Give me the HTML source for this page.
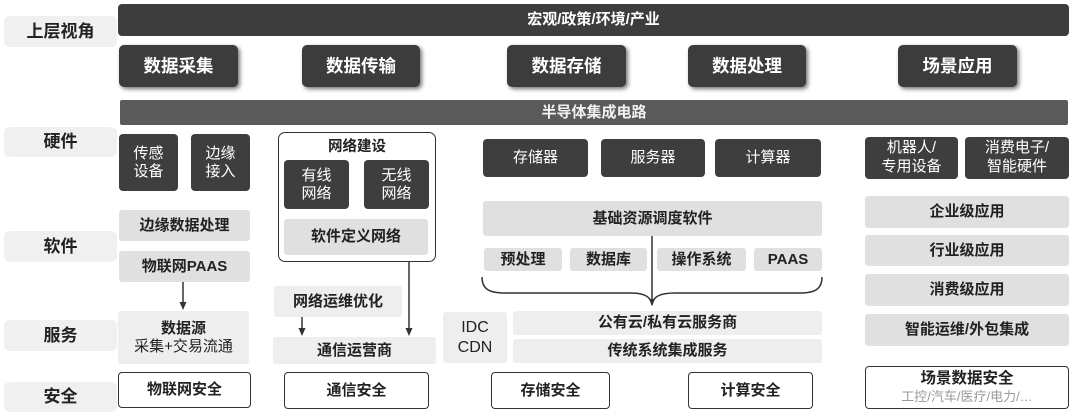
<!DOCTYPE html>
<html><head><meta charset="utf-8">
<style>
*{margin:0;padding:0;box-sizing:border-box}
body{width:1080px;height:419px;background:#fff;position:relative;overflow:hidden;font-family:"Liberation Sans","Noto Sans CJK SC",sans-serif;color:#222}
.a{position:absolute;display:flex;align-items:center;justify-content:center;text-align:center;line-height:1.15}
.lab{background:#f0f0f0;border-radius:6px;font-size:17px;font-weight:bold;color:#222;left:4px;width:113px}
.dk{background:#3e3e3e;color:#fff;border-radius:4px;font-size:15px}
.btn{background:#3c3c3c;color:#fff;border-radius:5px;font-size:17.5px;font-weight:bold;box-shadow:2px 2px 4px rgba(0,0,0,0.55);top:45px;height:42px}
.sw{background:#e0e0e0;border-radius:3px;font-size:15px;font-weight:bold;color:#222}
.sv{background:#eeeeee;border-radius:3px;font-size:15px;font-weight:bold;color:#222}
.ol{border:1.6px solid #333;border-radius:4px;font-size:15px;font-weight:bold;color:#222;background:#fff}
</style></head><body>

<!-- left labels -->
<div class="a lab" style="top:16px;height:31px">上层视角</div>
<div class="a lab" style="top:127px;height:30px">硬件</div>
<div class="a lab" style="top:231px;height:31px">软件</div>
<div class="a lab" style="top:320px;height:31px">服务</div>
<div class="a lab" style="top:382px;height:30px">安全</div>

<!-- top bar -->
<div class="a" style="left:118px;top:4px;width:951px;height:32px;background:#3d3d3d;border-radius:4px;color:#fff;font-size:15px;font-weight:bold">宏观/政策/环境/产业</div>

<!-- buttons -->
<div class="a btn" style="left:119px;width:119px">数据采集</div>
<div class="a btn" style="left:302px;width:118px">数据传输</div>
<div class="a btn" style="left:507px;width:119px">数据存储</div>
<div class="a btn" style="left:688px;width:118px">数据处理</div>
<div class="a btn" style="left:898px;width:119px">场景应用</div>

<!-- semiconductor bar -->
<div class="a" style="left:120px;top:100px;width:948px;height:25px;background:#5a5a5a;border-radius:2px;color:#f2f2f2;font-size:15px;font-weight:bold">半导体集成电路</div>

<!-- column 1 -->
<div class="a dk" style="left:119px;top:134px;width:59px;height:57px">传感<br>设备</div>
<div class="a dk" style="left:191px;top:134px;width:59px;height:57px">边缘<br>接入</div>
<div class="a sw" style="left:119px;top:210px;width:131px;height:31px">边缘数据处理</div>
<div class="a sw" style="left:119px;top:251px;width:131px;height:31px">物联网PAAS</div>
<div class="a sv" style="left:118px;top:311px;width:131px;height:53px;flex-direction:column;line-height:1.2">数据源<span style="font-weight:normal">采集+交易流通</span></div>
<div class="a ol" style="left:118px;top:372px;width:133px;height:36px">物联网安全</div>

<!-- column 2 -->
<div class="a" style="left:278px;top:132px;width:158px;height:130px;border:1.6px solid #333;border-radius:7px;align-items:flex-start;padding-top:6px;font-size:14.5px;font-weight:bold">网络建设</div>
<div class="a dk" style="left:284px;top:160px;width:65px;height:49px">有线<br>网络</div>
<div class="a dk" style="left:364px;top:160px;width:65px;height:49px">无线<br>网络</div>
<div class="a sw" style="left:284px;top:219px;width:144px;height:36px">软件定义网络</div>
<div class="a sv" style="left:274px;top:286px;width:128px;height:31px">网络运维优化</div>
<div class="a sv" style="left:273px;top:337px;width:163px;height:27px">通信运营商</div>
<div class="a ol" style="left:284px;top:372px;width:145px;height:37px">通信安全</div>

<!-- column 3 -->
<div class="a dk" style="left:483px;top:139px;width:105px;height:38px">存储器</div>
<div class="a dk" style="left:601px;top:139px;width:104px;height:38px">服务器</div>
<div class="a dk" style="left:715px;top:139px;width:106px;height:38px">计算器</div>
<div class="a sw" style="left:483px;top:201px;width:339px;height:35px">基础资源调度软件</div>
<div class="a sw" style="left:484px;top:248px;width:78px;height:23px">预处理</div>
<div class="a sw" style="left:570px;top:248px;width:77px;height:23px">数据库</div>
<div class="a sw" style="left:657px;top:248px;width:89px;height:23px">操作系统</div>
<div class="a sw" style="left:754px;top:248px;width:68px;height:23px">PAAS</div>
<div class="a sv" style="left:443px;top:312px;width:64px;height:51px;font-weight:normal;font-size:16px;line-height:1.2">IDC<br>CDN</div>
<div class="a sv" style="left:513px;top:311px;width:309px;height:24px">公有云/私有云服务商</div>
<div class="a sv" style="left:513px;top:339px;width:309px;height:24px">传统系统集成服务</div>
<div class="a ol" style="left:491px;top:372px;width:119px;height:37px">存储安全</div>
<div class="a ol" style="left:688px;top:372px;width:125px;height:37px">计算安全</div>

<!-- column 4 -->
<div class="a dk" style="left:865px;top:137px;width:93px;height:42px;line-height:1.25">机器人/<br>专用设备</div>
<div class="a dk" style="left:965px;top:137px;width:104px;height:42px;line-height:1.25">消费电子/<br>智能硬件</div>
<div class="a sw" style="left:865px;top:196px;width:204px;height:32px">企业级应用</div>
<div class="a sw" style="left:865px;top:235px;width:204px;height:31px">行业级应用</div>
<div class="a sw" style="left:865px;top:274px;width:204px;height:32px">消费级应用</div>
<div class="a sw" style="left:865px;top:314px;width:204px;height:32px">智能运维/外包集成</div>
<div class="a ol" style="left:865px;top:366px;width:204px;height:43px;flex-direction:column;line-height:1.2"><span style="font-size:15.5px">场景数据安全</span><span style="font-size:13px;font-weight:normal;color:#999">工控/汽车/医疗/电力/…</span></div>

<!-- connectors -->
<svg width="1080" height="419" style="position:absolute;left:0;top:0" xmlns="http://www.w3.org/2000/svg">
<g stroke="#333" stroke-width="1.5" fill="none">
<line x1="183" y1="282" x2="183" y2="303"/>
<line x1="302" y1="317" x2="302" y2="329"/>
<line x1="409" y1="262" x2="409" y2="329"/>
<line x1="652" y1="236" x2="652" y2="300"/>
<path d="M482,277 C482,289 489,293 505,293 L630,293 C645,293 651,297 652,305 C653,297 659,293 675,293 L800,293 C815,293 822,289 822,277"/>
</g>
<g fill="#333">
<polygon points="179.5,302 186.5,302 183,310"/>
<polygon points="298.5,328 305.5,328 302,336"/>
<polygon points="405.5,328 412.5,328 409,336"/>
<polygon points="649,299 655,299 652,306"/>
</g>
</svg>
</body></html>
